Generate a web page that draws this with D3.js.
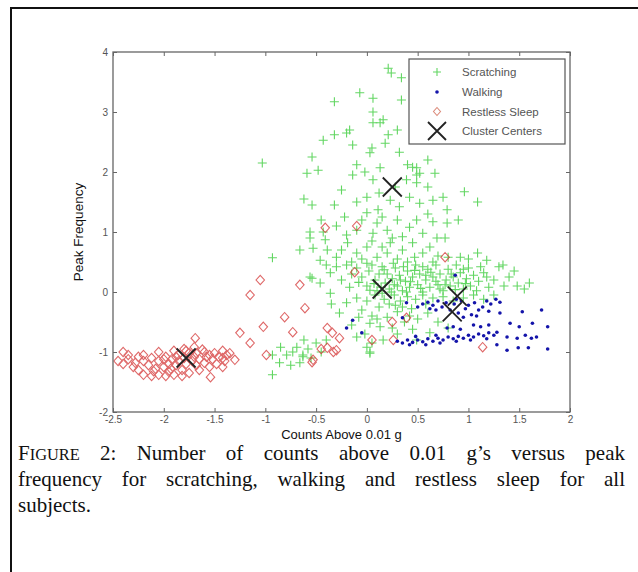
<!DOCTYPE html>
<html><head><meta charset="utf-8">
<script src="https://cdn.jsdelivr.net/npm/d3@7"></script>
<style>body{margin:0;background:#fff}svg{display:block}</style>
</head><body>
<script>
const xTicks = [-2.5,-2,-1.5,-1,-0.5,0,0.5,1,1.5,2];
const xTickLabels = ["-2.5","-2","-1.5","-1","-0.5","0","0.5","1","1.5","2"];
const yTicks = [-2,-1,0,1,2,3,4];
const yTickLabels = ["-2","-1","0","1","2","3","4"];
const legendLabels = ["Scratching","Walking","Restless Sleep","Cluster Centers"];

const scratching = [
[0.21,3.73],[0.24,3.65],[0.34,3.57],[-0.07,3.32],[0.06,3.23],[-0.32,3.17],[0.34,3.2],[0.06,3.0],[0.06,2.82],[0.13,2.82],[0.16,2.87],[0.3,2.7],[-0.17,2.7],[-0.2,2.65],[-0.32,2.62],[-0.43,2.53],[-0.14,2.45],[0.18,2.48],[0.21,2.62],[0.05,2.4],
[0.03,2.32],[0.32,2.33],[-0.54,2.25],[0.4,2.12],[-0.1,2.12],[-0.48,2.03],[0.13,2.07],[0.49,2.07],[-1.03,2.15],[-0.59,1.98],[0.6,2.2],[0.45,2.08],[0.67,1.98],[0.52,1.98],[-0.14,1.95],[-0.02,2.0],[0.06,1.87],[0.39,1.87],[0.49,1.95],
[0.49,1.82],[0.6,1.75],[0.96,1.67],[0.75,1.58],[0.65,1.53],[0.52,1.48],[1.09,1.5],[-0.54,1.45],[-0.32,1.45],[-0.1,1.5],[0,1.58],[0.23,1.53],[0.32,1.42],[0.42,1.58],[-0.62,1.55],[-0.25,1.7],[0.12,1.65],[0.28,1.75],
[-0.22,1.25],[0,1.32],[0.11,1.37],[0.3,1.2],[0.1,1.15],[-0.1,1.03],[0.06,0.98],[0.2,1.03],[0.42,1.08],[-0.56,1.0],[-0.56,0.9],[-0.43,1.0],[-0.41,0.87],[0.79,1.37],[0.9,1.2],[0.49,1.2],[0.65,1.17],[0.79,1.15],[0.55,0.98],[0.69,0.9],[0.77,0.9],[0.35,0.92],[-0.3,1.1],[-0.2,0.95],[0.15,1.25],[0.6,1.3],[-0.45,1.2],[0.25,0.9],[-0.05,1.2],
[-0.66,0.7],[-0.53,0.73],[-0.39,0.7],[-0.3,0.58],[-0.46,0.53],[-0.19,0.82],[-0.1,0.65],[0,0.75],[0.1,0.58],[0.2,0.65],[0.23,0.82],[0.35,0.7],[0.47,0.58],[0.45,0.82],[0.62,0.75],[0.92,0.58],[1.09,0.65],[1.18,0.53],[0.8,0.58],[-0.93,0.57],[-0.05,0.55],[0.15,0.75],[0.3,0.55],[0.55,0.65],[0.7,0.6],[-0.25,0.7],[0.05,0.85],[0.4,0.5],[0.65,0.5],[1.0,0.55],[-0.15,0.5],[1.34,0.45],[1.45,0.35],[1.6,0.15],
[-0.56,0.25],[-0.36,0.32],[-0.46,0.15],[-0.54,0.23],[-0.36,-0.02],[-0.17,0.08],[-0.25,0.2],[-0.1,0.4],[-0.05,0.25],[0.0,0.1],[0.02,0.35],[0.05,0.45],[0.08,0.2],[0.1,0.02],[0.12,0.3],[0.15,0.42],[0.18,0.15],[0.2,0.3],[0.22,0.05],[0.25,0.22],[0.28,0.4],[0.3,0.1],[0.32,0.28],[0.35,0.02],[0.38,0.18],[0.4,0.35],[0.42,0.08],[0.45,0.25],[0.48,0.45],[0.5,0.12],[0.52,0.3],[0.55,0.0],[0.58,0.2],[0.6,0.38],[0.62,0.08],[0.65,0.25],[0.68,0.45],[0.7,0.12],[0.72,0.3],[0.75,0.02],[0.78,0.2],[0.8,0.38],[0.82,0.1],[0.85,0.25],[0.88,0.45],[0.9,0.15],[0.92,0.32],[0.95,0.05],[0.98,0.22],[1.0,0.4],[1.02,0.1],[1.05,0.28],[1.08,0.02],[1.1,0.18],[1.15,0.32],[1.2,0.08],[1.25,0.2],[1.3,0.42],[1.35,0.1],[1.48,0.1],[1.4,0.25],[1.55,0.05],[-0.3,0.42],[-0.15,0.3],[0.0,0.48],[0.14,0.08],[0.26,0.48],[0.36,0.42],[0.55,0.42],[0.72,0.05],[0.95,0.38],[1.12,0.42],[-0.4,0.45],
[0.07,0.14],[0.17,0.37],[0.27,0.12],[0.43,0.17],[0.53,0.06],[0.63,0.33],[0.77,0.12],[0.87,0.04],[0.33,0.2],[0.47,0.36],[-0.08,0.16],[0.03,0.03],[0.58,0.28],[0.68,0.18],[0.24,0.0],[0.39,0.0],[0.83,0.3],[0.97,0.14],[1.18,0.25],[-0.2,0.45],
[-0.2,-0.18],[-0.27,-0.35],[0.03,-0.52],[0.13,-0.58],[-0.1,-0.1],[-0.05,-0.3],[0.0,-0.15],[0.05,-0.4],[0.08,-0.05],[0.12,-0.25],[0.17,-0.12],[0.2,-0.42],[0.22,-0.2],[0.27,-0.05],[0.3,-0.33],[0.33,-0.15],[0.37,-0.5],[0.4,-0.08],[0.44,-0.28],[0.48,-0.12],[0.5,-0.45],[0.55,-0.05],[0.6,-0.35],[0.65,-0.1],[0.7,-0.5],[0.75,-0.08],[0.8,-0.6],[0.85,-0.15],[0.95,-0.1],[1.05,-0.05],[1.15,-0.12],[1.25,-0.05],[-0.15,-0.55],[-0.35,-0.2],[0.25,-0.6],[0.45,-0.62],[0.62,-0.68],[-0.02,-0.7],[0.1,-0.45],[0.35,-0.25],[0.15,-0.02],[0.28,-0.22],[0.42,-0.4],[0.58,-0.2],[-0.08,-0.42],
[-0.93,-1.05],[-0.79,-1.05],[-0.86,-1.18],[-0.93,-1.38],[-0.69,-0.92],[-0.63,-1.05],[-0.66,-1.18],[-0.73,-1.0],[-0.58,-0.95],[-0.55,-1.1],[-0.5,-0.85],[-0.45,-1.0],[-0.4,-0.8],[-0.75,-1.22],[-0.85,-0.92],[-0.62,-0.8],[0,-0.92],[0.03,-1.02],[0.16,-0.8],[-0.63,-1.08],[0.03,-1.0],[0.49,-0.8],[0.05,-0.85],[-0.1,-0.75],[0.3,-0.7]
];

const walking = [
[0.55,-0.2],[0.6,-0.17],[0.65,-0.22],[0.7,-0.15],[0.74,-0.25],[0.78,-0.18],[0.82,-0.3],[0.86,-0.2],[0.9,-0.35],[0.93,-0.15],[0.97,-0.28],[1.0,-0.22],[1.03,-0.38],[1.06,-0.18],[1.1,-0.3],[1.14,-0.25],[1.18,-0.15],[1.22,-0.2],[1.27,-0.12],[1.31,-0.17],[0.68,-0.3],[0.88,-0.12],[0.95,-0.42],[1.08,-0.4],[1.2,-0.32],[0.62,-0.28],[0.5,-0.25],
[1.31,-0.35],[1.41,-0.52],[1.53,-0.33],[1.72,-0.3],[1.5,-0.58],[1.63,-0.52],[1.78,-0.58],[1.28,-0.67],[1.38,-0.75],[1.48,-0.77],[1.56,-0.72],[1.62,-0.77],[1.67,-0.75],[1.28,-0.88],[1.38,-0.97],[1.49,-0.93],[1.59,-0.93],[1.78,-0.95],[1.2,-0.55],[1.12,-0.58],[0.79,-0.6],[0.85,-0.58],[0.92,-0.62],[1.05,-0.55],
[0.3,-0.82],[0.35,-0.85],[0.4,-0.8],[0.45,-0.84],[0.5,-0.8],[0.55,-0.83],[0.6,-0.78],[0.65,-0.82],[0.7,-0.77],[0.75,-0.8],[0.8,-0.75],[0.85,-0.78],[0.9,-0.74],[0.95,-0.77],[1.0,-0.72],[1.05,-0.75],[1.1,-0.7],[1.15,-0.73],[1.2,-0.68],[1.25,-0.72],[0.42,-0.88],[0.58,-0.88],[0.72,-0.85],[0.88,-0.82],[1.02,-0.8],[1.18,-0.78],[0.48,-0.74],[0.68,-0.72],
[0.39,-0.18],[-0.14,-0.47],[-0.05,-0.68],[0.35,-0.43],[0.87,0.28],[-0.2,-0.6]
];

const restlessSleep = [
[-1.69,-0.77],[-1.54,-1.42],[-1.15,-0.05],[-0.81,-0.42],[-1.02,-0.58],[-1.25,-0.68],[-1.15,-0.85],[-1.35,-1.02],[-1.3,-1.13],[-1.05,0.2],[-0.66,0.12],[-0.61,-0.27],[-0.73,-0.67],[-0.99,-1.05],[-0.54,-1.17],[-0.39,-0.6],[-0.39,-0.93],[-0.33,-1.0],[-0.34,-0.68],[-0.3,-0.97],[-0.27,-0.77],[-0.53,-1.13],[0.05,-0.8],[0.25,-0.5],[0.26,-0.8],[-0.12,0.33],[0.39,-0.43],[1.14,-0.92],[-0.1,1.1],[0.77,0.58],[-0.41,1.07],[-0.45,-0.95],
[-2.4,-1.0],[-2.2,-1.05],[-2.05,-1.0],[-1.9,-0.98],[-1.8,-0.95],[-1.7,-0.92],[-1.6,-1.0],[-1.5,-1.02],[-1.42,-0.98],
[-2.45,-1.15],[-2.35,-1.12],[-2.28,-1.18],[-2.2,-1.15],[-2.12,-1.1],[-2.05,-1.15],[-1.98,-1.08],[-1.92,-1.12],[-1.86,-1.05],[-1.8,-1.1],[-1.75,-1.02],[-1.7,-1.08],[-1.65,-1.12],[-1.58,-1.08],[-1.52,-1.12],[-1.46,-1.08],[-1.4,-1.15],[-1.85,-1.15],[-1.95,-1.2],[-1.72,-1.15],
[-2.4,-1.2],[-2.3,-1.25],[-2.15,-1.22],[-2.08,-1.28],[-2.0,-1.25],[-1.93,-1.28],[-1.88,-1.22],[-1.78,-1.2],[-1.68,-1.22],[-1.6,-1.18],[-1.55,-1.25],[-1.48,-1.2],[-1.42,-1.25],[-2.25,-1.3],[-1.82,-1.3],
[-2.2,-1.38],[-2.12,-1.4],[-2.05,-1.38],[-1.98,-1.4],[-1.9,-1.38],[-1.82,-1.4],[-1.75,-1.35],[-2.1,-1.32],[-1.95,-1.33],[-1.65,-1.3],
[-2.35,-1.05],[-2.25,-1.08],[-1.62,-0.96],[-1.78,-0.98],[-1.55,-1.05],[-2.0,-1.12],[-1.88,-1.08],[-1.68,-1.02],[-1.38,-1.05],[-1.42,-1.1]
];

const clusterCenters = [[0.25,1.75],[0.15,0.05],[0.89,-0.07],[0.84,-0.33],[-1.78,-1.1]];

const W = 638, H = 572;
const svg = d3.select("body").append("svg").attr("width", W).attr("height", H);

svg.append("path").attr("d", "M11,572 L11,8 L638,8").attr("fill","none").attr("stroke","#111").attr("stroke-width",2);

const L = 113, R = 570, T = 52, B = 412;
const x = d3.scaleLinear().domain([-2.5, 2]).range([L, R]);
const y = d3.scaleLinear().domain([-2, 4]).range([B, T]);

const axisColor = "#666";
const fontSans = "Arial, 'Liberation Sans', sans-serif";
const green = "rgb(60,205,60)";

const gS = svg.append("g").attr("stroke", green).attr("stroke-width", 1.1).attr("opacity", 0.8);
scratching.forEach(([a,b]) => {
  const px = x(a), py = y(b), s = 4.5;
  gS.append("path").attr("d", `M${px-s},${py}H${px+s}M${px},${py-s}V${py+s}`);
});

const gR = svg.append("g").attr("fill","none").attr("stroke","rgb(210,40,40)").attr("stroke-width",1.1).attr("opacity",0.7);
restlessSleep.forEach(([a,b]) => {
  const px = x(a), py = y(b), s = 4.7;
  gR.append("path").attr("d", `M${px},${py-s}L${px+s*0.9},${py}L${px},${py+s}L${px-s*0.9},${py}Z`);
});

svg.append("g").selectAll("circle").data(walking).join("circle")
  .attr("cx", d => x(d[0])).attr("cy", d => y(d[1])).attr("r", 1.8)
  .attr("fill", "rgb(20,20,170)");

const gC = svg.append("g").attr("stroke","#222").attr("stroke-width",1.8);
clusterCenters.forEach(([a,b]) => {
  const px = x(a), py = y(b), s = 9.5;
  gC.append("path").attr("d", `M${px-s},${py-s}L${px+s},${py+s}M${px-s},${py+s}L${px+s},${py-s}`);
});

function styleAxis(g){ g.select(".domain").remove(); g.selectAll("line").attr("stroke", axisColor); g.selectAll("text").attr("fill","#555").attr("font-family", fontSans).attr("font-size", 10); }
svg.append("g").attr("transform", `translate(0,${B})`)
  .call(d3.axisBottom(x).tickValues(xTicks).tickFormat((d,i)=>xTickLabels[i]).tickSizeInner(-4).tickSizeOuter(0).tickPadding(4))
  .call(styleAxis);
svg.append("g").attr("transform", `translate(0,${T})`)
  .call(d3.axisTop(x).tickValues(xTicks).tickFormat("").tickSizeInner(-4).tickSizeOuter(0))
  .call(styleAxis);
svg.append("g").attr("transform", `translate(${L},0)`)
  .call(d3.axisLeft(y).tickValues(yTicks).tickFormat((d,i)=>yTickLabels[i]).tickSizeInner(-4).tickSizeOuter(0).tickPadding(5))
  .call(styleAxis);
svg.append("g").attr("transform", `translate(${R},0)`)
  .call(d3.axisRight(y).tickValues(yTicks).tickFormat("").tickSizeInner(-4).tickSizeOuter(0))
  .call(styleAxis);
svg.append("rect").attr("x",L).attr("y",T).attr("width",R-L).attr("height",B-T).attr("fill","none").attr("stroke",axisColor).attr("stroke-width",1.3);

svg.append("text").attr("x",(L+R)/2).attr("y",439).attr("text-anchor","middle")
  .attr("font-family",fontSans).attr("font-size",13).attr("fill","#111").text("Counts Above 0.01 g");
svg.append("text").attr("transform",`translate(83,${(T+B)/2}) rotate(-90)`).attr("text-anchor","middle")
  .attr("font-family",fontSans).attr("font-size",13.5).attr("fill","#111").text("Peak Frequency");

const lg = svg.append("g");
lg.append("rect").attr("x",409).attr("y",59).attr("width",156).attr("height",85).attr("fill","#fff").attr("stroke","#555").attr("stroke-width",1.2);
const rowsY = [72, 92, 111.5, 131];
legendLabels.forEach((t,i) => {
  lg.append("text").attr("x",462).attr("y",rowsY[i]+4).attr("font-family",fontSans).attr("font-size",11.5).attr("fill","#555").text(t);
});
{
  const mx = 437;
  let py = rowsY[0];
  lg.append("path").attr("d",`M${mx-4},${py}H${mx+4}M${mx},${py-4}V${py+4}`).attr("stroke",green).attr("stroke-width",1.1).attr("opacity",0.8);
  lg.append("circle").attr("cx",mx).attr("cy",rowsY[1]).attr("r",1.8).attr("fill","rgb(20,20,170)");
  py = rowsY[2];
  lg.append("path").attr("d",`M${mx},${py-4}L${mx+3.5},${py}L${mx},${py+4}L${mx-3.5},${py}Z`).attr("fill","none").attr("stroke","rgb(210,110,90)").attr("stroke-width",1.1).attr("opacity",0.8);
  py = rowsY[3];
  lg.append("path").attr("d",`M${mx-9},${py-9}L${mx+9},${py+9}M${mx-9},${py+9}L${mx+9},${py-9}`).attr("stroke","#222").attr("stroke-width",1.8);
}

const capFont = "'Liberation Serif', 'Times New Roman', serif";
const capSize = 21;
const capLines = [
  {y: 460, words: ["FIGURE", "2:", "Number", "of", "counts", "above", "0.01", "g’s", "versus", "peak"], justify: true},
  {y: 486, words: ["frequency", "for", "scratching,", "walking", "and", "restless", "sleep", "for", "all"], justify: true},
  {y: 512, words: ["subjects."], justify: false}
];
const capL = 18, capR = 625;
capLines.forEach(line => {
  const els = line.words.map(w => {
    const t = svg.append("text").attr("y", line.y).attr("font-family", capFont).attr("font-size", capSize).attr("fill","#111");
    if (w === "FIGURE") {
      t.append("tspan").text("F");
      t.append("tspan").attr("font-size", capSize*0.78).text("IGURE");
    } else t.text(w);
    return t;
  });
  const widths = els.map(e => e.node().getComputedTextLength());
  const total = d3.sum(widths);
  const gap = line.justify && els.length > 1 ? (capR - capL - total) / (els.length - 1) : 5;
  let cx = capL;
  els.forEach((e,i) => { e.attr("x", cx); cx += widths[i] + gap; });
});
</script>
</body></html>
